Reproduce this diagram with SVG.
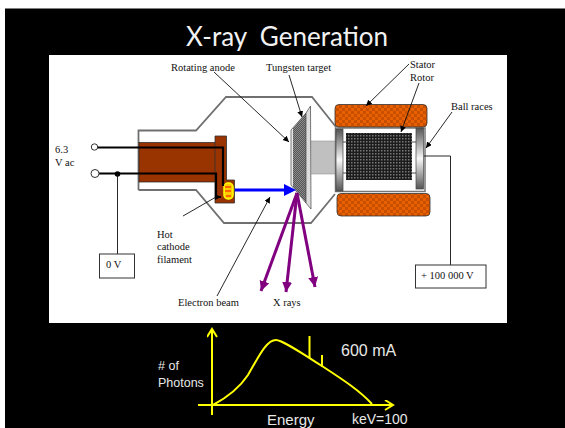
<svg xmlns="http://www.w3.org/2000/svg" width="565" height="428" viewBox="0 0 565 428">
<style>
.t{font-family:"Liberation Serif",serif;font-size:10.500px;fill:#111}
.s{font-family:"Liberation Sans",sans-serif;fill:#e8e8e8}
.glass{fill:none;stroke:#707070;stroke-width:1.800}
.lead{fill:none;stroke:#111;stroke-width:.9}
.wire{fill:none;stroke:#000;stroke-width:2.200}
.purple{stroke:#800080;stroke-width:3;fill:none}
.yl{stroke:#ffff00;stroke-width:2;fill:none}
.box{fill:#fff;stroke:#333;stroke-width:1}
</style>
<defs>
<pattern id="dark" width="3" height="3" patternUnits="userSpaceOnUse"><rect width="3" height="3" fill="#1c1c1c"/><rect width="1.500" height="1.500" fill="#777"/></pattern>
<pattern id="gray" width="2" height="2" patternUnits="userSpaceOnUse"><rect width="2" height="2" fill="#555"/><rect width="1" height="1" fill="#8c8c8c"/><rect x="1" y="1" width="1" height="1" fill="#8c8c8c"/></pattern>
<pattern id="orange" width="6" height="6" patternUnits="userSpaceOnUse"><rect width="6" height="6" fill="#e86000"/><rect width="3" height="3" fill="#c94f00"/><rect x="3" y="3" width="3" height="3" fill="#c94f00"/></pattern>
<linearGradient id="race" x1="0" x2="0" y1="0" y2="1"><stop offset="0" stop-color="#555"/><stop offset=".5" stop-color="#f8f8f8"/><stop offset="1" stop-color="#555"/></linearGradient>
<marker id="ah" markerWidth="8" markerHeight="8" refX="6" refY="3" orient="auto" markerUnits="userSpaceOnUse"><path d="M0 0L6 3L0 6Z" fill="#000"/></marker>
<marker id="pa" markerWidth="12" markerHeight="12" refX="10" refY="5" orient="auto" markerUnits="userSpaceOnUse"><path d="M0 0L10 5L0 10Z" fill="#800080"/></marker>
<marker id="ya" markerWidth="12" markerHeight="12" refX="9" refY="5" orient="auto" markerUnits="userSpaceOnUse"><path d="M1 0L9 5L1 10" fill="none" stroke="#ffff00" stroke-width="2"/></marker>
</defs>
<rect width="565" height="428" fill="#fff"/>
<rect x="5" y="8.500" width="560" height="420" fill="#000"/>
<text class="s" x="186" y="46" style="font-family:Lato,sans-serif;font-size:26px;fill:#f2f2f2" xml:space="preserve">X-ray  Generation</text>
<rect x="49" y="55" width="458" height="268" fill="#fff"/>

<g id="tube">
<path class="glass" d="M138.500 190V130.500H196L226 97H312L336 127"/>
<path class="glass" d="M138.500 190H196L224 223H311L335 194"/>
</g>
<g id="cathode">
<rect x="139" y="142.500" width="77" height="39.500" fill="#993300" stroke="#222" stroke-width=".7"/>
<path d="M215 136H226.500V180H234.500V203H215Z" fill="#993300" stroke="#333" stroke-width=".8"/>
<rect x="224" y="183" width="9" height="16" rx="4" fill="#ffcc00" stroke="#ffff00" stroke-width="1.500"/>
<path d="M225 187H231M225 191H231M226 196H231" stroke="#ff6600" stroke-width="2"/>
</g>
<g id="anode">
<path d="M291 130L306 113L306 203L291 185Z" fill="#e8e8e8" stroke="#444" stroke-width=".7"/>
<path d="M293 128L306 113L306 203L293 187Z" fill="url(#gray)"/>
<path d="M306 113L310.500 106L311 209L306 203Z" fill="#dcdcdc" stroke="#444" stroke-width=".7"/>
<rect x="311" y="141" width="25" height="33" fill="#c0c0c0" stroke="#888" stroke-width=".5"/>
</g>
<g id="rotor">
<rect x="335.500" y="128" width="89.500" height="63.500" fill="#fff" stroke="#777" stroke-width="1.500"/>
<path d="M343 142H416M343 173H416" stroke="#222" stroke-width=".8"/>
<rect x="346" y="133" width="66" height="47" fill="url(#dark)"/>
<rect x="336" y="129" width="7" height="62" fill="url(#race)" stroke="#444" stroke-width=".7"/>
<rect x="416" y="128" width="7.500" height="61" fill="url(#race)" stroke="#444" stroke-width=".7"/>
</g>
<g id="stator-top"><rect x="335" y="104.500" width="92" height="22.500" rx="4" fill="url(#orange)" stroke="#333" stroke-width=".8"/></g>
<g id="stator-bottom"><rect x="337" y="193.500" width="93" height="22.500" rx="4" fill="url(#orange)" stroke="#333" stroke-width=".8"/></g>

<g id="connectors">
<path class="wire" d="M97 147.500H223V186"/>
<path class="wire" d="M98 173.500H216V197H221" marker-end="url(#ah)"/>
<circle cx="94.500" cy="147" r="3.200" fill="#fff" stroke="#333"/>
<circle cx="95" cy="173.500" r="4" fill="#fff" stroke="#333"/>
<circle cx="117.500" cy="174" r="2.800" fill="#000"/>
<path class="lead" d="M117.500 174V254"/>
<path class="lead" d="M424 156H450.500V265"/>
<path d="M235 190H285" stroke="#0000ff" stroke-width="3" fill="none"/>
<path d="M284 184L296 190L284 196Z" fill="#0000ff"/>
<path class="purple" d="M297 193L261 291" marker-end="url(#pa)"/>
<path class="purple" d="M297 193L286 292" marker-end="url(#pa)"/>
<path class="purple" d="M297 193L315 287" marker-end="url(#pa)"/>
<path class="lead" d="M214 72L289 142" marker-end="url(#ah)"/>
<path class="lead" d="M289 75L302 117" marker-end="url(#ah)"/>
<path class="lead" d="M409 64L366 106" marker-end="url(#ah)"/>
<path class="lead" d="M419 83L401 132" marker-end="url(#ah)"/>
<path class="lead" d="M452 112L426 148" marker-end="url(#ah)"/>
<path class="lead" d="M217 296L270 197" marker-end="url(#ah)"/>
<path class="lead" d="M183 216L216 197"/>
</g>

<g id="box-0v"><rect class="box" x="99.500" y="254" width="35" height="24"/><text class="t" x="106" y="268">0 V</text></g>
<g id="box-hv"><rect class="box" x="415.500" y="265" width="70.500" height="23"/><text class="t" x="421" y="279">+ 100 000 V</text></g>
<g id="labels">
<text class="t" x="171" y="71">Rotating anode</text>
<text class="t" x="266" y="71">Tungsten target</text>
<text class="t" x="410" y="68">Stator</text>
<text class="t" x="410" y="81">Rotor</text>
<text class="t" x="451" y="110">Ball races</text>
<text class="t" x="55" y="153">6.3</text>
<text class="t" x="55" y="166">V ac</text>
<text class="t" x="157" y="238">Hot</text>
<text class="t" x="157" y="250">cathode</text>
<text class="t" x="157" y="263">filament</text>
<text class="t" x="178" y="306">Electron beam</text>
<text class="t" x="273" y="306">X rays</text>
</g>

<g id="spectrum">
<path class="yl" d="M212 415V329" marker-end="url(#ya)"/>
<path class="yl" d="M198 405H393" marker-end="url(#ya)"/>
<path d="M213 405C226 398 238 390 248 375C258 358 266 340 276 340C282 340 300 352 322 366C345 381 360 391 372 404" fill="none" stroke="#ffff00" stroke-width="2"/>
<path class="yl" d="M309.500 336V358M322 355V367"/>
</g>
<g id="spectrum-labels">
<text class="s" x="341" y="356" font-size="16">600 mA</text>
<text class="s" x="158" y="370" font-size="12.500"># of</text>
<text class="s" x="158" y="387" font-size="12.500">Photons</text>
<text class="s" x="267" y="424.500" font-size="15">Energy</text>
<text class="s" x="352" y="424" font-size="14">keV=100</text>
</g>
</svg>
